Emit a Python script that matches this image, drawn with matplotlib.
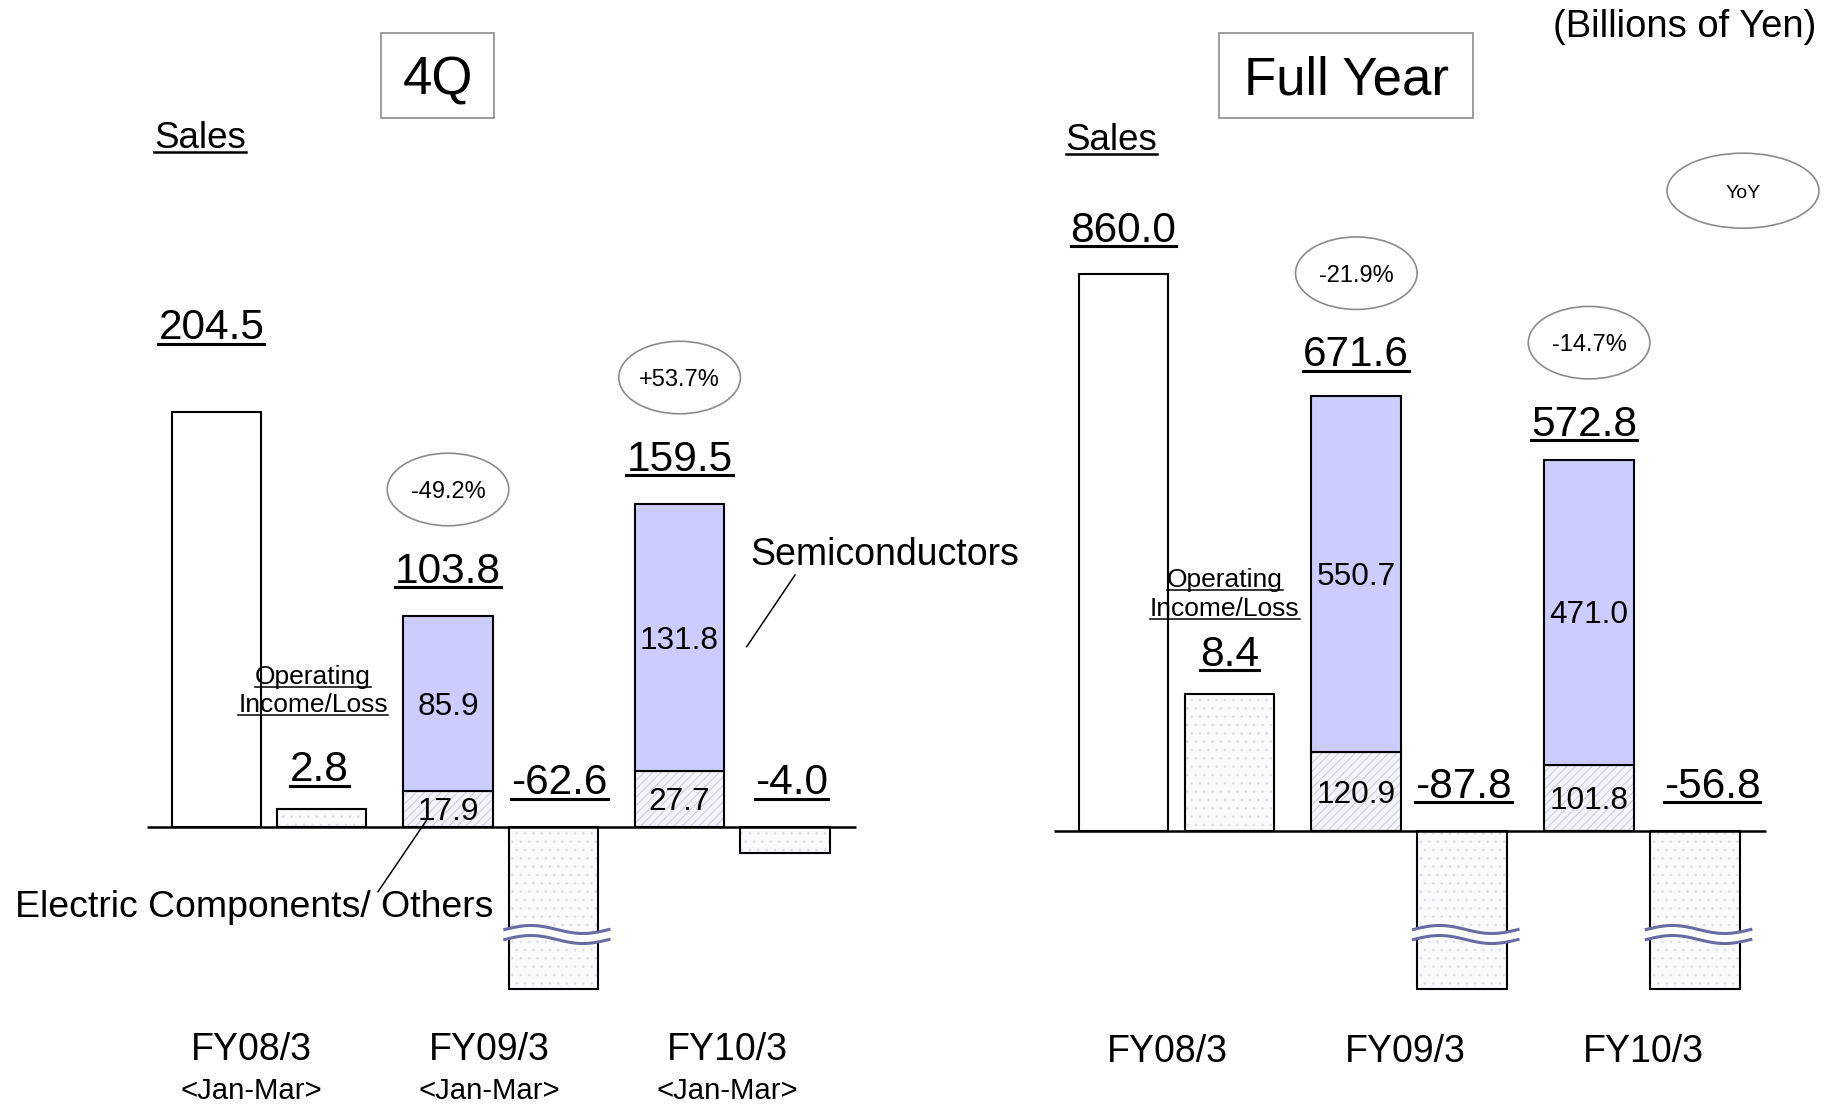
import numpy as np
import matplotlib
matplotlib.use("Agg")
import matplotlib.pyplot as plt
from matplotlib.patches import Rectangle, Ellipse, Polygon
from matplotlib.lines import Line2D

W, H, DPI = 1834, 1104, 100

plt.rcParams["font.family"] = ["Liberation Sans", "DejaVu Sans"]
plt.rcParams["hatch.linewidth"] = 0.7

# ---------------- data (billions of yen) ----------------
periods = ["FY08/3", "FY09/3", "FY10/3"]
quarter_note = "<Jan-Mar>"

q4_sales = [204.5, 103.8, 159.5]
q4_semiconductors = [None, 85.9, 131.8]
q4_components = [None, 17.9, 27.7]
q4_op_income = [2.8, -62.6, -4.0]
q4_yoy = [None, "-49.2%", "+53.7%"]

fy_sales = [860.0, 671.6, 572.8]
fy_semiconductors = [None, 550.7, 471.0]
fy_components = [None, 120.9, 101.8]
fy_op_income = [8.4, -87.8, -56.8]
fy_yoy = [None, "-21.9%", "-14.7%"]

# ---------------- styling ----------------
SEMI_C = "#CCCCFF"
COMP_FACE = "#F3F4FA"
COMP_HATCH = "#C6C9DC"
OI_FACE = "#FAFAFC"
OI_HATCH = "#DFE0E8"
BREAK_C = "#6B6BA3"
OUTLINE_C = "#8C8C8C"
EDGE_LW = 1.5
BAR_W = 0.385
OI_OFFSET = 0.455

VALUE_SIZE = 30.5
INBAR_SIZE = 22.8
YOY_SIZE = 17
PERIOD_SIZE = 27
NOTE_SIZE = 21.2

fig = plt.figure(figsize=(W / DPI, H / DPI), dpi=DPI)
renderer = fig.canvas.get_renderer()


def text_px(x, y_top, s, size, ha="center", underline=None, zorder=10):
    """Text vertically centred on a top-origin pixel position, optionally underlined."""
    em = size * DPI / 72
    base = (H - y_top) - 0.358 * em
    t = fig.text(x / W, base / H, s, fontsize=size, ha=ha, va="baseline", zorder=zorder)
    if underline:
        bb = t.get_window_extent(renderer=renderer)
        uy = base - 0.105 * em
        fig.add_artist(Line2D([bb.x0 / W, bb.x1 / W], [uy / H, uy / H], color="black",
                              lw=underline, transform=fig.transFigure, zorder=zorder))
    return t


def line_px(p0, p1, lw=1.1, color="black"):
    fig.add_artist(Line2D([p0[0] / W, p1[0] / W], [1 - p0[1] / H, 1 - p1[1] / H],
                          color=color, lw=lw, transform=fig.transFigure, zorder=10))


def ellipse_px(cx, cy_top, w, h, label, size):
    fig.add_artist(Ellipse((cx / W, 1 - cy_top / H), w / W, h / H, facecolor="white",
                           edgecolor=OUTLINE_C, lw=1.2, transform=fig.transFigure, zorder=9))
    text_px(cx, cy_top, label, size)


def box_px(x0, y0, x1, y1, label, size):
    fig.add_artist(Rectangle((x0 / W, 1 - y1 / H), (x1 - x0) / W, (y1 - y0) / H,
                             facecolor="white", edgecolor=OUTLINE_C, lw=1.2,
                             transform=fig.transFigure, zorder=9))
    text_px((x0 + x1) / 2, (y0 + y1) / 2, label, size)


def draw_break(x_left, x_right, y_low, y_high):
    """Wavy axis-break symbol, bottom-origin pixel coordinates."""
    t = np.linspace(0, 1, 80)
    xs = x_left + (x_right - x_left) * t
    amp = 4.0
    w_hi = y_high + amp * np.sin(2 * np.pi * t)
    w_lo = y_low + amp * np.sin(2 * np.pi * t)
    poly = np.column_stack([np.r_[xs, xs[::-1]] / W, np.r_[w_hi, w_lo[::-1]] / H])
    fig.add_artist(Polygon(poly, closed=True, facecolor="white", edgecolor="none",
                           transform=fig.transFigure, zorder=5))
    for w in (w_hi, w_lo):
        fig.add_artist(Line2D(xs / W, w / H, color=BREAK_C, lw=2.2,
                              transform=fig.transFigure, zorder=6))


def draw_panel(left_px, width_px, first_px, step_px, base_top_px, sales_ppu, oi_ppu,
               sales, semis, comps, opinc, yoy, sales_lift, sales_dx, oi_dx,
               label_x0, label_step, label_y, sub_label):
    ax = fig.add_axes([left_px / W, 0, width_px / W, 1])
    b = H - base_top_px
    ax.set_xlim((left_px - first_px) / step_px, (left_px + width_px - first_px) / step_px)
    ax.set_ylim(-b / sales_ppu, (H - b) / sales_ppu)
    ax.set_axis_off()
    ax2 = ax.twinx()
    ax2.set_ylim(-b / oi_ppu, (H - b) / oi_ppu)
    ax2.set_axis_off()

    def to_top(axis, x, y):
        px, py = axis.transData.transform((x, y))
        return px, H - py

    xs = np.arange(len(sales))

    # sales bars, split into segments where a breakdown exists
    for i, x in enumerate(xs):
        if semis[i] is None:
            ax.bar(x, sales[i], BAR_W, color="white", edgecolor="black", lw=EDGE_LW)
        else:
            ax.bar(x, comps[i], BAR_W, color=COMP_FACE, edgecolor=COMP_HATCH, lw=0, hatch="////")
            ax.bar(x, comps[i], BAR_W, fill=False, edgecolor="black", lw=EDGE_LW)
            ax.bar(x, semis[i], BAR_W, bottom=comps[i], color=SEMI_C, edgecolor="black", lw=EDGE_LW)
            cx, cy = to_top(ax, x, comps[i] + semis[i] / 2)
            text_px(cx, cy, f"{semis[i]:.1f}", INBAR_SIZE)
            cx, cy = to_top(ax, x, comps[i] / 2)
            text_px(cx, cy, f"{comps[i]:.1f}", INBAR_SIZE)
        px, py = to_top(ax, x, sales[i])
        ly = py - sales_lift[i]
        text_px(px + sales_dx[i], ly, f"{sales[i]:.1f}", VALUE_SIZE, underline=2.2)
        if yoy[i]:
            ellipse_px(px, ly - 78, 121.6, 72.5, yoy[i], YOY_SIZE)

    # operating income bars, long negative bars are cut with a break symbol
    floor = ax2.transData.inverted().transform((0, H - 988.5))[1]
    for i, x in enumerate(xs):
        v = opinc[i]
        xo = x + OI_OFFSET
        shown = max(v, floor)
        ax2.bar(xo, shown, BAR_W, color=OI_FACE, edgecolor=OI_HATCH, lw=0, hatch="..")
        ax2.bar(xo, shown, BAR_W, fill=False, edgecolor="black", lw=EDGE_LW)
        px, py = to_top(ax2, xo, max(v, 0))
        text_px(px + oi_dx[i], py - (43 if v > 0 else 48), f"{v:.1f}", VALUE_SIZE, underline=2.2)
        if v < floor:
            xl = ax2.transData.transform((xo - BAR_W / 2, 0))[0]
            xr = ax2.transData.transform((xo + BAR_W / 2, 0))[0]
            fb = H - 988.5
            draw_break(xl - 4, xr + 11, fb + 49, fb + 59)

    ax2.plot([-0.30, xs[-1] + OI_OFFSET + 0.305], [0, 0], color="black", lw=1.8,
             solid_capstyle="butt", zorder=4)

    # period labels
    for i, x in enumerate(xs):
        px, _ = to_top(ax, label_x0 + i * label_step, 0)
        text_px(px, label_y, periods[i], PERIOD_SIZE)
        if sub_label:
            text_px(px, label_y + 41, sub_label, NOTE_SIZE)
    return ax, ax2


# ---------------- 4Q panel ----------------
draw_panel(0, 917, 216.4, 231.6, 827.0, 2.028, 6.4,
           q4_sales, q4_semiconductors, q4_components, q4_op_income, q4_yoy,
           sales_lift=[88, 49, 48], sales_dx=[-5, 0, 0], oi_dx=[-2, 6, 7],
           label_x0=0.152, label_step=1.0276, label_y=1047, sub_label=quarter_note)

# ---------------- Full-year panel ----------------
draw_panel(917, 917, 1123.5, 232.8, 830.5, 0.6474, 16.3,
           fy_sales, fy_semiconductors, fy_components, fy_op_income, fy_yoy,
           sales_lift=[47, 44.5, 39], sales_dx=[0, 0, -5], oi_dx=[0, 1, 17],
           label_x0=0.189, label_step=1.0223, label_y=1049, sub_label=None)

# titles and headings
box_px(381, 33, 494, 118, "4Q", 38)
box_px(1219, 33, 1473, 118, "Full Year", 38)
text_px(1816.5, 23.4, "(Billions of Yen)", 27.5, ha="right")
text_px(154, 134.5, "Sales", 26.5, ha="left", underline=1.8)
text_px(1065.6, 137, "Sales", 26.5, ha="left", underline=1.8)
ellipse_px(1743, 190.7, 152, 75, "YoY", 14)

# operating income captions
for (ox, oy1, oy2) in [(313.0, 675, 703), (1224.7, 578, 607)]:
    text_px(ox, oy1, "Operating", 19, underline=1.1)
    text_px(ox, oy2, "Income/Loss", 19, underline=1.1)

# segment call-outs
text_px(750, 552, "Semiconductors", 27, ha="left")
line_px((795, 575), (746.7, 646.7))
text_px(15, 904, "Electric Components/ Others", 26.9, ha="left")
line_px((426.7, 820), (378, 891.7))

fig.savefig("out.png", dpi=DPI, facecolor="white")
